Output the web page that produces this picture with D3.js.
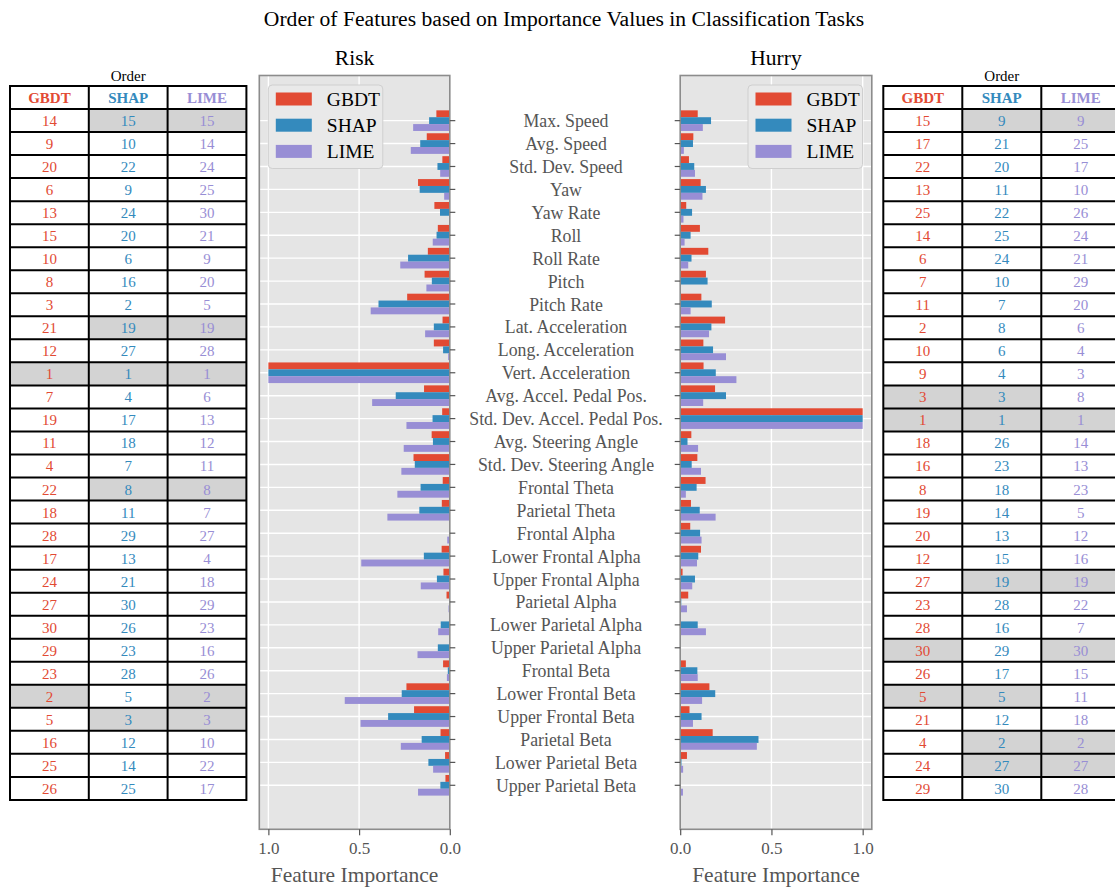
<!DOCTYPE html>
<html>
<head>
<meta charset="utf-8">
<script src="https://cdn.jsdelivr.net/npm/d3@7"></script>
<style>
  body { margin: 0; background: #fff; }
  svg { display: block; }
  text { font-family: "Liberation Serif", "Times New Roman", serif; }
</style>
</head>
<body>
<svg id="chart" width="1115" height="889"></svg>
<script>
// ---- data ----------------------------------------------------------------
const features = [
  "Max. Speed", "Avg. Speed", "Std. Dev. Speed", "Yaw", "Yaw Rate", "Roll",
  "Roll Rate", "Pitch", "Pitch Rate", "Lat. Acceleration", "Long. Acceleration",
  "Vert. Acceleration", "Avg. Accel. Pedal Pos.", "Std. Dev. Accel. Pedal Pos.",
  "Avg. Steering Angle", "Std. Dev. Steering Angle", "Frontal Theta", "Parietal Theta",
  "Frontal Alpha", "Lower Frontal Alpha", "Upper Frontal Alpha", "Parietal Alpha",
  "Lower Parietal Alpha", "Upper Parietal Alpha", "Frontal Beta", "Lower Frontal Beta",
  "Upper Frontal Beta", "Parietal Beta", "Lower Parietal Beta", "Upper Parietal Beta"
];
const methods = ["GBDT", "SHAP", "LIME"];
const methodColors = ["#E24A33", "#348ABD", "#988ED5"];

// normalised feature importance, Risk task
const riskGBDT = [0.074, 0.127, 0.041, 0.175, 0.085, 0.066, 0.121, 0.139, 0.235, 0.040,
  0.088, 1.0, 0.142, 0.042, 0.100, 0.200, 0.039, 0.044, 0.004, 0.045,
  0.035, 0.018, 0.000, 0.001, 0.037, 0.239, 0.197, 0.051, 0.026, 0.024];
const riskSHAP = [0.114, 0.163, 0.068, 0.166, 0.054, 0.073, 0.230, 0.099, 0.393, 0.088,
  0.037, 1.0, 0.298, 0.095, 0.093, 0.193, 0.161, 0.168, 0.002, 0.143,
  0.071, 0.001, 0.050, 0.066, 0.011, 0.265, 0.340, 0.155, 0.118, 0.052];
const riskLIME = [0.202, 0.215, 0.053, 0.031, 0.000, 0.094, 0.273, 0.129, 0.436, 0.136,
  0.009, 1.0, 0.428, 0.239, 0.254, 0.267, 0.289, 0.344, 0.014, 0.488,
  0.160, 0.007, 0.064, 0.178, 0.016, 0.579, 0.492, 0.270, 0.092, 0.175];

// normalised feature importance, Hurry task
const hurryGBDT = [0.096, 0.072, 0.048, 0.112, 0.033, 0.108, 0.154, 0.141, 0.116, 0.246,
  0.127, 0.128, 0.191, 1.0, 0.061, 0.094, 0.139, 0.059, 0.055, 0.114,
  0.013, 0.044, 0.004, 0.000, 0.031, 0.160, 0.051, 0.178, 0.037, 0.003];
const hurrySHAP = [0.169, 0.070, 0.077, 0.141, 0.065, 0.057, 0.062, 0.150, 0.173, 0.171,
  0.180, 0.195, 0.251, 1.0, 0.040, 0.063, 0.090, 0.107, 0.109, 0.099,
  0.081, 0.006, 0.096, 0.002, 0.094, 0.192, 0.117, 0.429, 0.007, 0.000];
const hurryLIME = [0.124, 0.020, 0.081, 0.122, 0.018, 0.024, 0.044, 0.001, 0.057, 0.158,
  0.251, 0.308, 0.126, 1.0, 0.098, 0.114, 0.031, 0.194, 0.117, 0.092,
  0.066, 0.037, 0.141, 0.000, 0.096, 0.120, 0.070, 0.420, 0.016, 0.015];

// rank order tables
const riskRankGBDT = [14, 9, 20, 6, 13, 15, 10, 8, 3, 21, 12, 1, 7, 19, 11, 4, 22, 18, 28, 17, 24, 27, 30, 29, 23, 2, 5, 16, 25, 26];
const riskRankSHAP = [15, 10, 22, 9, 24, 20, 6, 16, 2, 19, 27, 1, 4, 17, 18, 7, 8, 11, 29, 13, 21, 30, 26, 23, 28, 5, 3, 12, 14, 25];
const riskRankLIME = [15, 14, 24, 25, 30, 21, 9, 20, 5, 19, 28, 1, 6, 13, 12, 11, 8, 7, 27, 4, 18, 29, 23, 16, 26, 2, 3, 10, 22, 17];
const hurryRankGBDT = [15, 17, 22, 13, 25, 14, 6, 7, 11, 2, 10, 9, 3, 1, 18, 16, 8, 19, 20, 12, 27, 23, 28, 30, 26, 5, 21, 4, 24, 29];
const hurryRankSHAP = [9, 21, 20, 11, 22, 25, 24, 10, 7, 8, 6, 4, 3, 1, 26, 23, 18, 14, 13, 15, 19, 28, 16, 29, 17, 5, 12, 2, 27, 30];
const hurryRankLIME = [9, 25, 17, 10, 26, 24, 21, 29, 20, 6, 4, 3, 8, 1, 14, 13, 23, 5, 12, 16, 19, 22, 7, 30, 15, 11, 18, 2, 27, 28];

const xTickValues = [0.0, 0.5, 1.0];

// ---- layout --------------------------------------------------------------
const svg = d3.select("#chart");
const bg = "#E5E5E5";
const frameTop = 75.5, frameBottom = 829.3;
const y = d3.scaleLinear().domain([-1.97, 30.92]).range([frameTop, frameBottom]);
const offsets = [-0.3, 0, 0.3];
const barH = y(0.3) - y(0);

svg.append("text")
  .attr("x", 564).attr("y", 19).attr("text-anchor", "middle")
  .attr("dominant-baseline", "central")
  .attr("font-size", 21.6).attr("fill", "#000")
  .text("Order of Features based on Importance Values in Classification Tasks");

function drawPanel(title, series, x, tickSide, legendX) {
  const [x0, x1] = d3.extent(x.range());
  const g = svg.append("g");
  g.append("rect").attr("x", x0).attr("y", frameTop)
    .attr("width", x1 - x0).attr("height", frameBottom - frameTop).attr("fill", bg);

  // grid
  g.selectAll(".vgrid").data(xTickValues).join("line")
    .attr("x1", d => x(d)).attr("x2", d => x(d))
    .attr("y1", frameTop).attr("y2", frameBottom)
    .attr("stroke", "#fff").attr("stroke-width", 1.4);
  g.selectAll(".hgrid").data(features).join("line")
    .attr("x1", x0).attr("x2", x1)
    .attr("y1", (d, i) => y(i)).attr("y2", (d, i) => y(i))
    .attr("stroke", "#fff").attr("stroke-width", 1.4);

  // bars
  series.forEach((vals, m) => {
    g.append("g").selectAll("rect").data(vals).join("rect")
      .attr("x", d => Math.min(x(0), x(d)))
      .attr("width", d => Math.abs(x(d) - x(0)))
      .attr("y", (d, i) => y(i + offsets[m]) - barH / 2)
      .attr("height", barH)
      .attr("fill", methodColors[m]);
  });

  // frame
  g.append("rect").attr("x", x0).attr("y", frameTop)
    .attr("width", x1 - x0).attr("height", frameBottom - frameTop)
    .attr("fill", "none").attr("stroke", "#8c8c8c").attr("stroke-width", 1.6);

  // y ticks (category ticks on the side facing the labels)
  const tx = tickSide > 0 ? x1 : x0;
  g.selectAll(".ytick").data(features).join("line")
    .attr("x1", tx).attr("x2", tx + tickSide * 5.5)
    .attr("y1", (d, i) => y(i)).attr("y2", (d, i) => y(i))
    .attr("stroke", "#555").attr("stroke-width", 1.2);

  // x axis
  const xa = g.append("g").attr("transform", `translate(0,${frameBottom})`)
    .call(d3.axisBottom(x).tickValues(xTickValues).tickFormat(d3.format(".1f"))
      .tickSize(6).tickPadding(7));
  xa.select(".domain").remove();
  xa.selectAll("line").attr("stroke", "#555").attr("stroke-width", 1.2);
  xa.selectAll("text").attr("font-size", 17).attr("fill", "#555")
    .attr("font-family", "Liberation Serif, serif");

  const cx = (x0 + x1) / 2;
  g.append("text").attr("x", cx).attr("y", 875).attr("text-anchor", "middle")
    .attr("dominant-baseline", "central").attr("font-size", 21.5).attr("fill", "#555")
    .text("Feature Importance");
  g.append("text").attr("x", cx).attr("y", 58).attr("text-anchor", "middle")
    .attr("dominant-baseline", "central").attr("font-size", 21.5).attr("fill", "#000")
    .text(title);

  // legend
  const lg = g.append("g").attr("transform", `translate(${legendX},85)`);
  lg.append("rect").attr("width", 114.5).attr("height", 83.5).attr("rx", 4)
    .attr("fill", "#E9E9E9").attr("stroke", "#cfcfcf").attr("stroke-width", 1);
  methods.forEach((name, m) => {
    lg.append("rect").attr("x", 7.5).attr("y", 7.5 + m * 26.2)
      .attr("width", 36).attr("height", 13).attr("fill", methodColors[m]);
    lg.append("text").attr("x", 58.5).attr("y", 14 + m * 26.2)
      .attr("dominant-baseline", "central").attr("font-size", 19.5).attr("fill", "#000")
      .text(name);
  });
}

const xRisk = d3.scaleLinear().domain([1.05, 0]).range([259.3, 449.8]);
const xHurry = d3.scaleLinear().domain([0, 1.05]).range([680.2, 871.8]);
drawPanel("Risk", [riskGBDT, riskSHAP, riskLIME], xRisk, 1, 268.3);
drawPanel("Hurry", [hurryGBDT, hurrySHAP, hurryLIME], xHurry, -1, 748);

// feature names between the two panels
svg.append("g").selectAll("text").data(features).join("text")
  .attr("x", 566).attr("y", (d, i) => y(i) + 0.5)
  .attr("text-anchor", "middle").attr("dominant-baseline", "central")
  .attr("font-size", 17.8).attr("fill", "#555")
  .text(d => d);

// ---- rank tables -----------------------------------------------------------
function drawTable(left, colW, ranks) {
  const top = 86, rowH = 23.03;
  const g = svg.append("g");
  const nRows = features.length;
  g.append("text").attr("x", left + colW * 1.5).attr("y", top - 10.5)
    .attr("text-anchor", "middle").attr("dominant-baseline", "central")
    .attr("font-size", 15).attr("fill", "#000").text("Order");

  // highlight cells whose rank is shared with another method in the same row
  for (let r = 0; r < nRows; r++) {
    const row = ranks.map(a => a[r]);
    row.forEach((v, c) => {
      const shared = row.filter(w => w === v).length > 1;
      g.append("rect").attr("x", left + c * colW).attr("y", top + (r + 1) * rowH)
        .attr("width", colW).attr("height", rowH)
        .attr("fill", shared ? "#D3D3D3" : "#fff");
    });
  }
  methods.forEach((name, c) => {
    g.append("rect").attr("x", left + c * colW).attr("y", top)
      .attr("width", colW).attr("height", rowH).attr("fill", "#fff");
    g.append("text").attr("x", left + (c + 0.5) * colW).attr("y", top + rowH / 2 + 0.5)
      .attr("text-anchor", "middle").attr("dominant-baseline", "central")
      .attr("font-size", 15).attr("font-weight", "bold").attr("fill", methodColors[c])
      .text(name);
    g.append("g").selectAll("text").data(ranks[c]).join("text")
      .attr("x", left + (c + 0.5) * colW)
      .attr("y", (d, r) => top + (r + 1.5) * rowH + 0.5)
      .attr("text-anchor", "middle").attr("dominant-baseline", "central")
      .attr("font-size", 15).attr("fill", methodColors[c])
      .text(d => d);
  });
  // grid lines
  for (let r = 0; r <= nRows + 1; r++) {
    g.append("line").attr("x1", left).attr("x2", left + 3 * colW)
      .attr("y1", top + r * rowH).attr("y2", top + r * rowH)
      .attr("stroke", "#000").attr("stroke-width", 2);
  }
  for (let c = 0; c <= 3; c++) {
    g.append("line").attr("x1", left + c * colW).attr("x2", left + c * colW)
      .attr("y1", top - 1).attr("y2", top + (nRows + 1) * rowH + 1)
      .attr("stroke", "#000").attr("stroke-width", 2);
  }
}

drawTable(10, 78.8, [riskRankGBDT, riskRankSHAP, riskRankLIME]);
drawTable(883.3, 79, [hurryRankGBDT, hurryRankSHAP, hurryRankLIME]);
</script>
</body>
</html>
